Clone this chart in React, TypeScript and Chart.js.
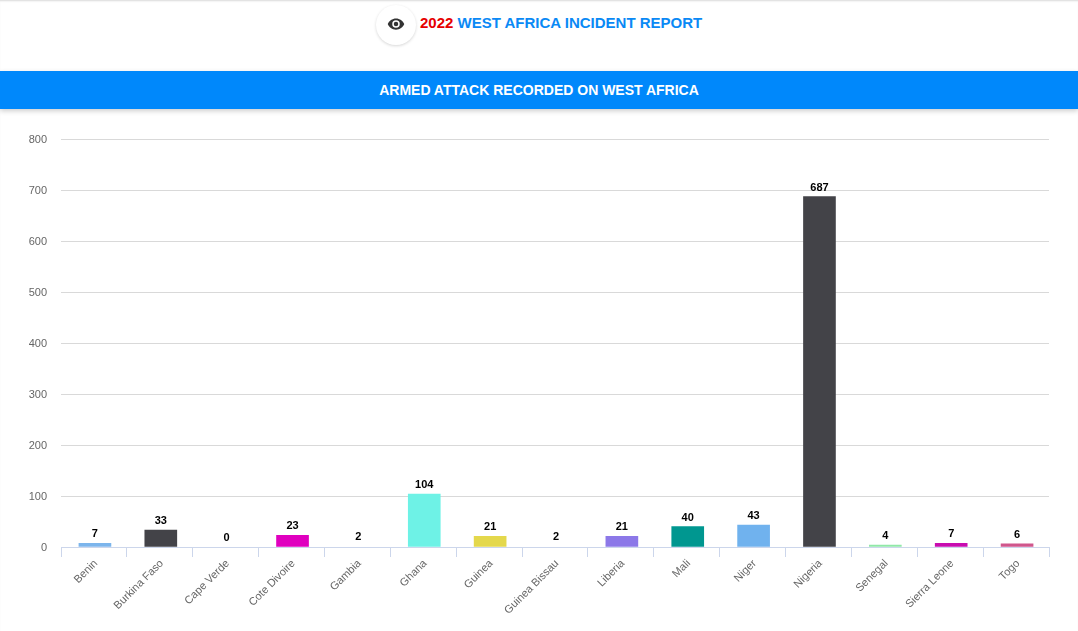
import { useEffect, useRef } from "react"
import { Chart, registerables } from "chart.js"

Chart.register(...registerables)

const countries = [
  "Benin", "Burkina Faso", "Cape Verde", "Cote Divoire", "Gambia", "Ghana", "Guinea", "Guinea Bissau",
  "Liberia", "Mali", "Niger", "Nigeria", "Senegal", "Sierra Leone", "Togo",
]
const attacks = [7, 33, 0, 23, 2, 104, 21, 2, 21, 40, 43, 687, 4, 7, 6]
// Gambia and Guinea Bissau have no visible bar in the picture
const barColors = [
  "#7cb5ec", "#434348", "#ffffff", "#e000bf", "#ffffff", "#6ef2e6", "#e4d84c", "#ffffff",
  "#8c78e8", "#009790", "#70b2ee", "#434348", "#90e8a8", "#c80cb0", "#d0568c",
]

const FONT = "'Liberation Sans', Arial, sans-serif"

// bars sit a pixel right of the category centre
const nudgeBars = {
  id: "nudgeBars",
  beforeDatasetsDraw(chart: Chart) {
    chart.ctx.save()
    chart.ctx.translate(1, 0)
  },
  afterDatasetsDraw(chart: Chart) {
    chart.ctx.restore()
  },
}

// value labels above each bar
const barLabels = {
  id: "barLabels",
  afterDatasetsDraw(chart: Chart) {
    const { ctx } = chart
    const meta = chart.getDatasetMeta(0)
    ctx.save()
    ctx.font = `bold 11px ${FONT}`
    ctx.fillStyle = "#000"
    ctx.textAlign = "center"
    ctx.textBaseline = "alphabetic"
    meta.data.forEach((bar, i) => {
      ctx.fillText(String(attacks[i]), bar.x + 1, bar.y - 6)
    })
    ctx.restore()
  },
}

function AttackChart() {
  const chartRef = useRef<HTMLCanvasElement>(null)

  useEffect(() => {
    if (!chartRef.current) return
    const chart = new Chart(chartRef.current, {
      type: "bar",
      data: {
        labels: countries,
        datasets: [{ data: attacks, backgroundColor: barColors, barThickness: 32, borderWidth: 0 }],
      },
      options: {
        animation: false,
        responsive: false,
        layout: { padding: { top: 29, right: 29, left: 0, bottom: 0 } },
        plugins: { legend: { display: false }, tooltip: { enabled: false } },
        scales: {
          x: {
            afterFit: (axis) => {
              axis.height = 84
            },
            border: { color: "#ccd6eb" },
            grid: { drawOnChartArea: false, color: "#ccd6eb", tickLength: 10 },
            ticks: {
              minRotation: 45,
              maxRotation: 45,
              padding: 0,
              labelOffset: 2,
              autoSkip: false,
              color: "#666666",
              font: { family: FONT, size: 11 },
            },
          },
          y: {
            min: 0,
            max: 800,
            afterFit: (axis) => {
              axis.width = 61
            },
            border: { display: false },
            grid: { color: "#d9d9d9", drawTicks: false },
            ticks: {
              stepSize: 100,
              padding: 14,
              labelOffset: 1,
              color: "#666666",
              font: { family: FONT, size: 11 },
            },
          },
        },
      },
      plugins: [nudgeBars, barLabels],
    })
    return () => chart.destroy()
  }, [])

  return <canvas ref={chartRef} width={1078} height={521} style={{ position: "absolute", left: 0, top: 110 }} />
}

export default function App() {
  return (
    <div
      style={{
        position: "fixed",
        inset: 0,
        background: "#fff",
        overflow: "hidden",
        fontFamily: FONT,
        boxShadow: "inset 0 2px 2px -1px rgba(0,0,0,0.15)",
      }}
    >
      <div
        style={{
          position: "absolute",
          left: 376,
          top: 5,
          width: 40,
          height: 40,
          borderRadius: "50%",
          background: "#fff",
          boxShadow: "0 1px 3px rgba(0,0,0,0.16)",
          display: "flex",
          alignItems: "center",
          justifyContent: "center",
        }}
      >
        <svg width="18" height="18" viewBox="0 0 24 24" fill="#333" style={{ marginTop: -2 }}>
          <path d="M12 4.5C7 4.5 2.7 7.6 1 12c1.7 4.4 6 7.5 11 7.5s9.3-3.1 11-7.5c-1.7-4.4-6-7.5-11-7.5zM12 17a5 5 0 1 1 0-10 5 5 0 0 1 0 10zm0-8a3 3 0 1 0 0 6 3 3 0 0 0 0-6z" />
        </svg>
      </div>
      <div
        style={{
          position: "absolute",
          left: 420,
          top: 14,
          fontSize: 15,
          lineHeight: "18px",
          fontWeight: 700,
          color: "#0a89f5",
          whiteSpace: "nowrap",
        }}
      >
        <span style={{ color: "#e60000" }}>2022</span> WEST AFRICA INCIDENT REPORT
      </div>
      <div
        style={{
          position: "absolute",
          left: 0,
          right: 0,
          top: 71,
          height: 38,
          background: "#0088fb",
          color: "#fff",
          fontSize: 14,
          fontWeight: 700,
          lineHeight: "38px",
          textAlign: "center",
          boxShadow: "0 2px 5px rgba(0,0,0,0.2)",
        }}
      >
        ARMED ATTACK RECORDED ON WEST AFRICA
      </div>
      <AttackChart />
    </div>
  )
}
